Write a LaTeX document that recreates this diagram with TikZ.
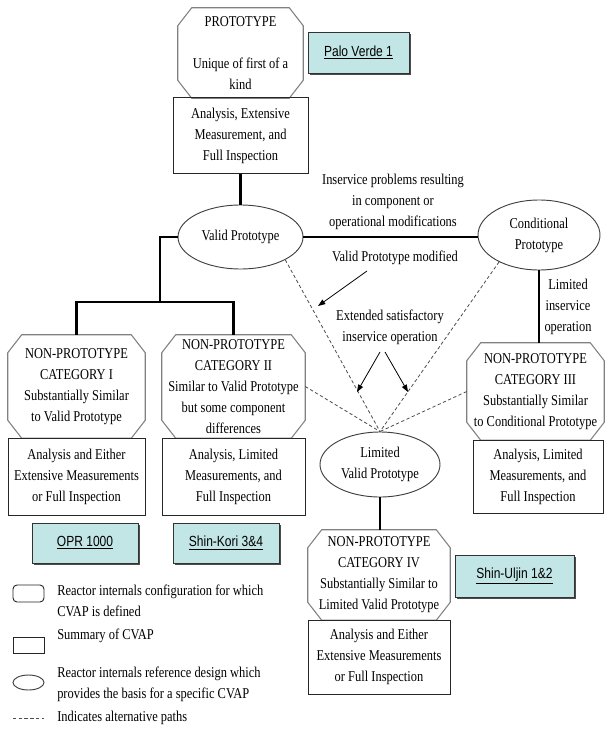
\documentclass[tikz,border=0pt]{standalone}
\usepackage{fontspec}
\setmainfont{Liberation Serif}[FakeStretch=0.83]
\newfontfamily\gulim{Liberation Sans}[FakeStretch=0.82]
\usetikzlibrary{arrows.meta,shapes.geometric,shadows}
\definecolor{cyanbox}{RGB}{194,229,229}
\newcommand\octo[1]{\draw[octline] ([xshift=10.5pt]#1.north west) -- ([xshift=-10.5pt]#1.north east) -- ([yshift=-13.5pt]#1.north east) -- ([yshift=13.5pt]#1.south east) -- ([xshift=-10.5pt]#1.south east) -- ([xshift=10.5pt]#1.south west) -- ([yshift=13.5pt]#1.south west) -- ([yshift=-13.5pt]#1.north west) -- cycle;}
\begin{document}
\begin{tikzpicture}[x=0.75pt,y=-0.75pt,
  every node/.style={font=\fontsize{11.25}{15.75}\selectfont, align=center, inner sep=0pt},
  lowtxt/.style={execute at begin node={\rule{0pt}{14.5pt}}},
  sumbox/.style={draw=black!85, line width=0.75pt, lowtxt},
  octnode/.style={draw=none, lowtxt},
  octline/.style={draw=black!50, line width=0.8pt, line join=round},
  ell/.style={ellipse, draw=black!75, line width=0.7pt},
  conn/.style={line width=2.2pt, black},
  altpath/.style={draw=black!70, line width=0.6pt, dash pattern=on 2.5pt off 1.8pt},
  arr/.style={line width=0.6pt, -{Triangle[length=5.5pt,width=4pt]}},
  cbox/.style={fill=cyanbox, draw=black!80, line width=0.6pt, drop shadow={shadow xshift=1.3pt, shadow yshift=-1.3pt, opacity=1, fill=black!70}, font=\gulim\fontsize{11}{13}\selectfont},
  leg/.style={align=left, anchor=west},
  legshape/.style={draw=black!85, line width=0.7pt}
]
\useasboundingbox (0,0) rectangle (605,738);

% top prototype
\node[draw=none, minimum width=93.75pt, minimum height=67.5pt] (oct0) at (240.5,53) {PROTOTYPE\\[15.75pt]Unique of first of a\\kind};
\octo{oct0}
\node[sumbox, minimum width=101.25pt, minimum height=56.25pt] (s0) at (240.5,135.5) {Analysis, Extensive\\Measurement, and\\Full Inspection};
\node[cbox, minimum width=75.75pt, minimum height=30.75pt] (pv) at (358.5,52.5) {\underline{Palo Verde 1}};

% ellipses
\node[ell, minimum width=93.75pt, minimum height=48pt] (vp) at (240.5,237) {Valid Prototype};
\node[ell, minimum width=91.5pt, minimum height=52.5pt] (cp) at (539,235) {Conditional\\Prototype};
\node[ell, minimum width=90pt, minimum height=48.75pt] (lvp) at (380,464.5) {Limited\\Valid Prototype};

% labels
\node (ip) at (393,202) {Inservice problems resulting\\in component or\\operational modifications};
\node (vpm) at (395,258) {Valid Prototype modified};
\node (ext) at (390,327) {Extended satisfactory\\inservice operation};
\node (lio) at (568,307) {Limited\\inservice\\operation};

% category I
\node[octnode, minimum width=102.75pt, minimum height=77.25pt] (oct1) at (76.5,386.5) {NON-PROTOTYPE\\CATEGORY I\\Substantially Similar\\to Valid Prototype};
\octo{oct1}
\node[sumbox, minimum width=102.75pt, minimum height=57.75pt] (s1) at (76.5,476.5) {Analysis and Either\\Extensive Measurements\\or Full Inspection};
% category II
\node[octnode, minimum width=107.25pt, minimum height=77.25pt] (oct2) at (233.5,386.5) {NON-PROTOTYPE\\CATEGORY II\\Similar to Valid Prototype\\but some component\\differences};
\octo{oct2}
\node[sumbox, minimum width=107.25pt, minimum height=57.75pt] (s2) at (233.5,476.5) {Analysis, Limited\\Measurements, and\\Full Inspection};
% category III
\node[octnode, minimum width=102.75pt, minimum height=72.75pt] (oct3) at (535.5,391.5) {NON-PROTOTYPE\\CATEGORY III\\Substantially Similar\\to Conditional Prototype};
\octo{oct3}
\node[sumbox, minimum width=97.5pt, minimum height=54.75pt] (s3) at (538,476.5) {Analysis, Limited\\Measurements, and\\Full Inspection};
% category IV
\node[octnode, minimum width=106.5pt, minimum height=67.5pt] (oct4) at (379,575) {NON-PROTOTYPE\\CATEGORY IV\\Substantially Similar to\\Limited Valid Prototype};
\octo{oct4}
\node[sumbox, minimum width=106.5pt, minimum height=55.5pt] (s4) at (379,657) {Analysis and Either\\Extensive Measurements\\or Full Inspection};

% plant boxes
\node[cbox, minimum width=79.5pt, minimum height=30pt] (opr) at (85,543) {\underline{OPR 1000}};
\node[cbox, minimum width=79.5pt, minimum height=30pt] (sk) at (226,543) {\underline{Shin-Kori 3\&4}};
\node[cbox, minimum width=89.25pt, minimum height=31.5pt] (su) at (514.5,576) {\underline{Shin-Uljin 1\&2}};

% thick connectors
\draw[conn] (s0.south) -- (vp.north);
\draw[conn] (vp.east) -- (cp.west |- vp.east);
\coordinate (j1) at (160,302);
\draw[conn] (vp.west) -| (j1);
\draw[conn] (oct1.north) |- (j1) -| (oct2.north);
\draw[conn] (cp.south) -- (cp.south |- oct3.north);
\draw[conn] (lvp.south) -- (lvp.south |- oct4.north);

% alternative paths
\draw[altpath] (vp.-27) -- (lvp.north);
\draw[altpath] (cp.-146) -- (lvp.north);
\draw[altpath] (oct2.east) -- (lvp.north);
\draw[altpath] (oct3.west) -- (lvp.north);

% arrows
\coordinate (a1s) at (367,271); \coordinate (a1e) at (318,306);
\coordinate (a2s) at (380,352); \coordinate (a2e) at (357,392);
\coordinate (a3s) at (385,352); \coordinate (a3e) at (408,392);
\draw[arr] (a1s) -- (a1e);
\draw[arr] (a2s) -- (a2e);
\draw[arr] (a3s) -- (a3e);

% legend
\node[legshape, rounded corners=3pt, minimum width=23.25pt, minimum height=12.75pt] (lg1) at (28.5,593.5) {};
\node[leg] (lt1) at (57,601) {Reactor internals configuration for which\\CVAP is defined};
\node[legshape, minimum width=23.25pt, minimum height=12pt] (lg2) at (28.5,645) {};
\node[leg] (lt2) at (57,636) {Summary of CVAP};
\node[ell, minimum width=23.25pt, minimum height=11.25pt] (lg3) at (28.5,682.5) {};
\node[leg] (lt3) at (57,684) {Reactor internals reference design which\\provides the basis for a specific CVAP};
\coordinate (lg4a) at (13,718); \coordinate (lg4b) at (44,718);
\draw[altpath] (lg4a) -- (lg4b);
\node[leg] (lt4) at (57,718) {Indicates alternative paths};
\end{tikzpicture}
\end{document}
